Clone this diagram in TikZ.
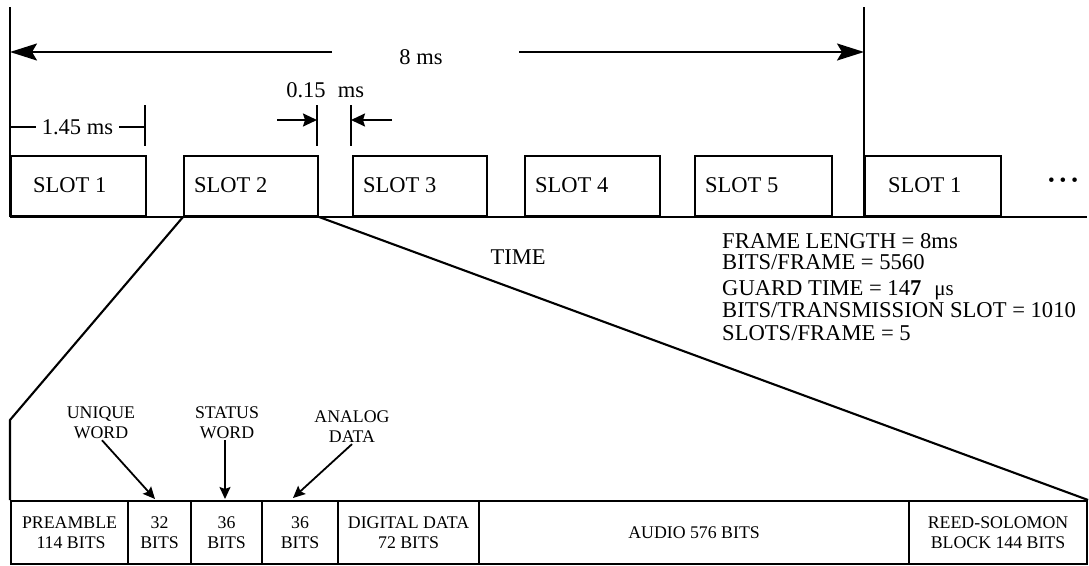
\documentclass[tikz,border=0pt]{standalone}
\usepackage{fontspec}
\setmainfont{Liberation Serif}
\usetikzlibrary{arrows.meta}
\begin{document}
\tikzset{
  ln/.style={line width=2.1pt},
  bigf/.style={font=\fontsize{22.5}{24}\selectfont},
  midf/.style={font=\fontsize{22.6}{25}\selectfont},
  smallf/.style={font=\fontsize{17.8}{20}\selectfont},
  slotbox/.style={draw, line width=2.1pt, minimum height=60pt, anchor=south west, inner sep=0pt},
  slottext/.style={bigf, anchor=base west, inner sep=0pt},
  cell/.style={draw, line width=2.1pt, minimum height=63pt, anchor=north west, inner sep=0pt, align=center, smallf},
  infotext/.style={midf, anchor=base west, inner sep=0pt},
  calltext/.style={smallf, align=center, inner sep=1pt},
  bigarrow/.style={-{Stealth[length=27pt,width=17pt,inset=5pt]}, line width=2pt},
  midarrow/.style={-{Stealth[length=14pt,width=13pt,inset=2pt]}, line width=2pt},
  smallarrow/.style={-{Stealth[length=12pt,width=11pt,inset=2pt]}, line width=1.8pt},
}
\begin{tikzpicture}[x=1pt,y=-1pt]
\useasboundingbox (0,0) rectangle (1089,565);

% ---- slot boxes ----
\node[slotbox, minimum width=135pt] (s1) at (10,217) {};
\node[slotbox, minimum width=134pt] (s2) at (183,217) {};
\node[slotbox, minimum width=134pt] (s3) at (352,217) {};
\node[slotbox, minimum width=135pt] (s4) at (524,217) {};
\node[slotbox, minimum width=137pt] (s5) at (694,217) {};
\node[slotbox, minimum width=136pt] (s6) at (864,217) {};

\node[slottext] (t1) at (33,192) {SLOT 1};
\node[slottext] (t2) at (194,192) {SLOT 2};
\node[slottext] (t3) at (363,192) {SLOT 3};
\node[slottext] (t4) at (535,192) {SLOT 4};
\node[slottext] (t5) at (705,192) {SLOT 5};
\node[slottext] (t6) at (888,192) {SLOT 1};
\node[inner sep=0pt, font=\fontsize{19}{20}\selectfont] (dots) at (1063,182)
  {\textbullet\hspace{5pt}\textbullet\hspace{5pt}\textbullet};

% ---- frame lines ----
\coordinate (L0) at (10,7);
\coordinate (R0) at (864,7);
\coordinate (BE) at (1087,217);
\draw[line width=1.7pt] (L0) -- (s1.south west);
\draw[line width=1.7pt] (R0) -- (s6.south west);
\draw[ln] (s1.south west) -- (BE);

% ---- 8 ms ----
\node[bigf, inner sep=0pt] (ms8) at (421,57) {8 ms};
\coordinate (A8l) at (332,52);
\coordinate (A8r) at (519,52);
\draw[bigarrow] (A8l) -- (L0 |- A8l);
\draw[bigarrow] (A8r) -- (R0 |- A8r);

% ---- 1.45 ms ----
\coordinate (K0) at (10,127);
\coordinate (K1) at (145,127);
\coordinate (T1a) at (145,105);
\coordinate (T1b) at (145,146);
\draw[ln] (T1a) -- (T1b);
\draw[ln] (K0) -- node[bigf, fill=white, inner xsep=6pt, inner ysep=0pt] (ms145) {1.45 ms} (K1);

% ---- 0.15 ms ----
\coordinate (T2a) at (317,105);
\coordinate (T2b) at (317,146);
\coordinate (T3a) at (351,105);
\coordinate (T3b) at (351,146);
\draw[ln] (T2a) -- (T2b);
\draw[ln] (T3a) -- (T3b);
\coordinate (G1) at (277,120);
\coordinate (G2) at (392,120);
\draw[midarrow] (G1) -- (T2a |- G1);
\draw[midarrow] (G2) -- (T3a |- G2);
\node[bigf, anchor=base, inner sep=0pt] (g015) at (306,97) {0.15};
\node[bigf, anchor=base, inner sep=0pt] (gms) at (351,97) {ms};

% ---- TIME ----
\node[bigf, anchor=base, inner sep=0pt] (time) at (518,264) {TIME};

% ---- info ----
\node[infotext] (i1) at (722,248) {FRAME LENGTH = 8ms};
\node[infotext] (i2) at (722,269) {BITS/FRAME = 5560};
\node[infotext] (i3) at (722,295) {GUARD TIME = 14\textbf{7}\hspace{13pt}{\fontsize{21}{22}\selectfont μs}};
\node[infotext] (i4) at (722,317) {BITS/TRANSMISSION SLOT = 1010};
\node[infotext] (i5) at (722,340) {SLOTS/FRAME = 5};

% ---- lower bar ----
\node[cell, minimum width=117pt] (c1) at (10,500) {PREAMBLE\\ \,114 BITS};
\node[cell, minimum width=63pt]  (c2) at (127,500) {32\\BITS};
\node[cell, minimum width=71pt]  (c3) at (190,500) {36\\BITS};
\node[cell, minimum width=76pt]  (c4) at (261,500) {36\\BITS};
\node[cell, minimum width=141pt] (c5) at (337,500) {DIGITAL DATA\\72 BITS};
\node[cell, minimum width=430pt] (c6) at (478,500) {AUDIO 576 BITS};
\node[cell, minimum width=178pt] (c7) at (908,500) {REED-SOLOMON\\BLOCK 144 BITS};

% ---- expansion lines ----
\coordinate (E1) at (10,420);
\draw[ln] (s2.south west) -- (E1) -- (c1.north west);
\draw[ln] (s2.south east) -- (c7.north east);

% ---- callouts ----
\node[calltext] (uw) at (101,423) {UNIQUE\\WORD};
\node[calltext] (sw) at (227,423) {STATUS\\WORD};
\node[calltext] (ad) at (352,427) {ANALOG\\DATA};
\coordinate (P1) at (155,499);
\coordinate (P2) at (225,499);
\coordinate (P3) at (293,498);
\draw[smallarrow] ([xshift=1pt]uw.south) -- (P1);
\draw[smallarrow] (P2 |- sw.south) -- (P2);
\draw[smallarrow] (ad.south) -- (P3);
\end{tikzpicture}
\end{document}
